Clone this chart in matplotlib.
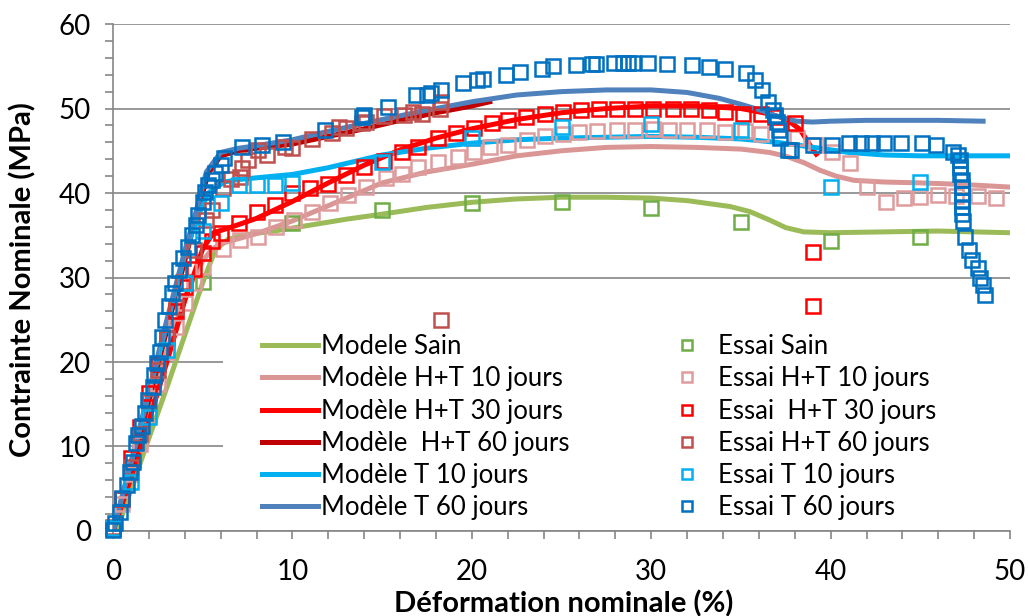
import matplotlib
matplotlib.use('Agg')
import matplotlib.pyplot as plt
from matplotlib.patches import Rectangle
from matplotlib.ticker import MultipleLocator

plt.rcParams['font.family'] = ['Lato', 'DejaVu Sans']

# ---- Model curves ----
sain_mod_x = [0, 0.2, 1, 2, 3, 4, 5, 5.7, 6.4, 7.5, 9, 10.7, 13, 15, 17.5, 20, 22.5, 25, 27.5, 30, 32, 34.4, 35.5, 36.6, 37.5, 38.5, 40, 43, 46, 50]
sain_mod_y = [0, 0, 4.9, 11, 17, 23.2, 29.4, 33.3, 34.5, 35.1, 35.5, 36.1, 36.9, 37.5, 38.3, 38.9, 39.3, 39.5, 39.5, 39.4, 39.1, 38.4, 37.8, 36.8, 35.9, 35.4, 35.3, 35.4, 35.5, 35.3]

ht10_mod_x = [0, 1, 2, 3, 4, 5, 5.5, 6, 7, 8, 10, 12, 15, 17.5, 20, 22.5, 25, 27.5, 30, 32.5, 35, 36.6, 37.6, 38.5, 39.4, 40.3, 41.3, 43, 45, 47.5, 50]
ht10_mod_y = [0, 7, 14.2, 21.3, 27.8, 32, 33.3, 34.0, 34.6, 35.2, 36.7, 38.5, 41.2, 42.5, 43.4, 44.4, 45.0, 45.4, 45.5, 45.4, 45.2, 44.8, 44.3, 43.6, 42.7, 42.0, 41.5, 41.3, 41.2, 41.0, 40.7]

ht30_mod_x = [0, 1, 2, 3, 4, 5, 5.6, 6.5, 8, 10, 12, 14, 16, 18, 20, 22.5, 25, 27.5, 30, 32.5, 35, 36.5, 37.5, 38.3, 38.9, 39.2]
ht30_mod_y = [0, 6.3, 13, 20, 27.3, 33.4, 35.3, 35.9, 37.0, 39.0, 41.2, 43.3, 45.1, 46.5, 47.6, 48.7, 49.5, 50.0, 50.3, 50.3, 50.0, 49.4, 48.8, 47.5, 45.5, 44.6]

ht60_mod_x = [0, 1, 2, 3, 4, 4.6, 5.3, 6, 7, 8, 10, 12, 14, 16, 18, 20, 21]
ht60_mod_y = [0, 7.5, 15.5, 23.8, 32, 37, 42.3, 44.4, 45, 45.3, 45.8, 46.7, 47.6, 48.6, 49.5, 50.3, 50.8]

t10_mod_x = [0, 1, 2, 3, 4, 4.6, 5.3, 6.2, 7, 8, 10, 12, 15, 17.5, 20, 22.5, 25, 27.5, 30, 32.5, 35, 37, 39.4, 41, 43, 45, 47.5, 50]
t10_mod_y = [0, 8, 16.3, 24.5, 32.7, 36.6, 40, 41.3, 41.6, 41.8, 42.2, 43, 44.5, 45.3, 45.9, 46.3, 46.5, 46.6, 46.7, 46.6, 46.4, 46.0, 45.3, 44.8, 44.5, 44.4, 44.4, 44.4]

t60_mod_x = [0, 1, 2, 3, 4, 4.6, 5.2, 6, 7, 8, 10, 12, 15, 17.5, 20, 22.5, 25, 27.5, 30, 32, 33.8, 35, 36.1, 37, 38.1, 39, 40, 42, 44, 46, 48.5]
t60_mod_y = [0, 8.2, 16.6, 25, 33.2, 37.6, 42.5, 44.8, 45.3, 45.6, 46.3, 47.3, 48.7, 49.8, 50.8, 51.6, 52, 52.2, 52.2, 51.9, 51.2, 50.5, 49.8, 49.1, 48.5, 48.4, 48.5, 48.6, 48.6, 48.6, 48.5]

# ---- Test data ----
sain_ess_x = [0, 5, 10, 15, 20, 25, 30, 35, 40, 45]
sain_ess_y = [0.3, 29.5, 36.4, 38.0, 38.8, 38.9, 38.2, 36.6, 34.3, 34.8]

ht10_ess_x = [0, 0.5, 1, 1.5, 2, 2.5, 3, 3.5, 4, 4.5, 5, 6.1, 7.1, 8.1, 9.1, 10.1, 11.1, 12.1, 13.1, 14.1,
              15.2, 16.1, 17, 18.1, 19.2, 20.1, 21, 22, 23.1, 24.1, 25.1, 26, 27, 28.1, 29.1, 30.1, 31, 32, 33.1, 34.1,
              35.2, 36.1, 38.1, 39.2, 40.1, 41.1, 42, 43.1, 44.1, 45, 46, 47, 48.2, 49.2]
ht10_ess_y = [0.3, 3.2, 6.8, 10.3, 13.8, 17.4, 21.2, 24.2, 27, 29.3, 31.2, 33.4, 34.4, 34.8, 36, 36.8, 37.8, 38.8, 39.8, 40.7,
              41.8, 42.3, 43.1, 43.7, 44.3, 44.9, 45.5, 45.7, 46.3, 46.7, 47, 47.2, 47.3, 47.5, 47.5, 47.6, 47.5, 47.5, 47.4, 47.2,
              47.3, 47.0, 46.5, 45.7, 44.9, 43.5, 40.7, 38.9, 39.4, 39.5, 39.8, 39.6, 39.6, 39.4]

ht30_ess_x = [0, 0.5, 1, 1.5, 2, 2.5, 3, 3.5, 4, 4.5, 5, 5.5, 6, 7, 8, 9, 10, 11, 12, 13,
              14, 15.1, 16.1, 17, 18.1, 19.1, 20.1, 21.1, 22, 23, 24.1, 25.1, 26.1, 27.1, 28.1, 29.1, 30.1, 31.2, 32.2, 33.2,
              34.1, 35.1, 36.1, 36.9, 38, 39, 39]
ht30_ess_y = [0.3, 3.8, 8.6, 12.3, 16.3, 19.8, 22.8, 26, 28.9, 31, 32.9, 34.3, 35.3, 36.4, 37.8, 38.6, 40, 40.6, 41.1, 42.1,
              43.1, 43.8, 44.9, 45.4, 46.5, 47.1, 47.7, 48.3, 48.6, 49, 49.4, 49.6, 49.8, 49.9, 50, 50, 50, 50, 49.9, 49.8,
              49.6, 49.4, 49.3, 49.0, 48.3, 33.0, 26.6]

ht60_ess_x = [0, 0.5, 1, 1.5, 2, 2.5, 3, 3.5, 3.9, 4.5, 5.2, 5.5, 6.1, 6.6, 7.1, 7.2, 7.5, 8.1, 8.6, 9.6,
              10, 11.1, 12.2, 12.6, 13, 13.9, 14.1, 15.1, 16.2, 16.7, 17.2, 18.2, 18.3, 18.3]
ht60_ess_y = [0.5, 3.8, 7.6, 11.5, 15.3, 19, 22.8, 26.5, 29.5, 33.3, 36.8, 38, 40.6, 41.6, 41.9, 43, 43.9, 45.1, 44.5, 45.5,
              45.3, 46.4, 47.1, 47.8, 47.7, 48.3, 48.4, 49.1, 49.2, 49.6, 49.4, 50, 50.8, 25.0]

t10_ess_x = [0, 1, 2, 3, 4, 5, 6, 7, 8, 9, 10, 15, 20, 25, 30, 35, 40, 45]
t10_ess_y = [0.3, 5.8, 13.5, 21.4, 29.3, 35.5, 38.8, 41, 41, 41, 41.2, 43.7, 46.5, 47.8, 48.2, 47.5, 40.7, 41.3]

t60_ess_x = [0, 0.1, 0.4, 0.5, 0.8, 0.95, 1.1, 1.3, 1.4, 1.6, 1.8, 1.95, 2.2, 2.3, 2.45, 2.6, 2.7, 2.9, 3.1, 3.3,
             3.45, 3.7, 3.9, 4.2, 4.4, 4.6, 4.75, 5.0, 5.1, 5.3, 5.5, 5.7, 6.0, 6.2, 7.2, 8.3, 9.5, 11.8, 13.9, 14.0,
             15.3, 16.9, 17.5, 17.7, 18.3, 19.5, 20.3, 20.6, 21.9, 22.7, 23.9, 24.5, 25.8, 26.7, 26.9, 27.9, 28.4, 28.7, 29.0, 29.8,
             30.9, 32.3, 33.2, 34.1, 35.3, 35.8, 36.2, 36.5, 36.8, 36.9, 37.0, 37.1, 37.2, 37.6, 37.8, 39.0, 40.1, 41.0, 41.7, 42.3,
             43.0, 43.9, 45.1, 45.9, 46.8, 47.1, 47.2, 47.2, 47.2, 47.3, 47.3, 47.3, 47.3, 47.3, 47.3, 47.4, 47.5, 47.7, 47.9, 48.2,
             48.3, 48.5, 48.6]
t60_ess_y = [0.1, 1.0, 2.3, 3.9, 5.5, 7.0, 8.2, 10.4, 11.4, 12.4, 14.0, 15.5, 17.1, 18.5, 19.9, 21.2, 23.0, 25.0, 26.6, 28.2,
             29.3, 30.9, 32.3, 33.6, 35.0, 36.2, 37.4, 38.9, 40.1, 40.9, 41.5, 42.4, 43.3, 44.1, 45.4, 45.7, 46.0, 47.5, 49.0, 49.2,
             50.2, 51.6, 51.6, 51.8, 52.2, 53.0, 53.4, 53.5, 54.0, 54.3, 54.7, 55.0, 55.1, 55.3, 55.3, 55.4, 55.4, 55.4, 55.4, 55.4,
             55.3, 55.1, 54.9, 54.7, 54.2, 53.4, 52.2, 50.8, 49.8, 49.2, 48.4, 47.5, 46.5, 45.1, 45.1, 45.7, 45.7, 45.9, 45.9, 45.9,
             45.9, 45.9, 45.9, 45.7, 44.9, 44.5, 43.9, 43.1, 42.3, 41.5, 40.7, 39.9, 39.1, 38.3, 37.5, 36.7, 34.8, 33.3, 32.1, 31.1,
             30.0, 29.1, 27.9]

fig, ax = plt.subplots(figsize=(10.28, 6.16), dpi=100)
fig.subplots_adjust(left=0.110, right=0.9825, bottom=0.138, top=0.961)

lw = 3.6
ax.plot(sain_mod_x, sain_mod_y, color='#9BBB59', lw=lw, label='Modele Sain', zorder=3)
ax.plot(ht10_mod_x, ht10_mod_y, color='#D99694', lw=lw, label='Modèle H+T 10 jours', zorder=3)
ax.plot(ht30_mod_x, ht30_mod_y, color='#FF0000', lw=lw, label='Modèle H+T 30 jours', zorder=3)
ax.plot(ht60_mod_x, ht60_mod_y, color='#C00000', lw=lw, label='Modèle  H+T 60 jours', zorder=3)
ax.plot(t10_mod_x, t10_mod_y, color='#00B0F0', lw=lw, label='Modèle T 10 jours', zorder=3)
ax.plot(t60_mod_x, t60_mod_y, color='#4F81BD', lw=lw, label='Modèle T 60 jours', zorder=3)

ms = 9.5
mew = 1.8
ess = [
    (sain_ess_x, sain_ess_y, '#70AD47', 'Essai Sain'),
    (ht10_ess_x, ht10_ess_y, '#DE9C9C', 'Essai H+T 10 jours'),
    (ht30_ess_x, ht30_ess_y, '#FF0000', 'Essai  H+T 30 jours'),
    (ht60_ess_x, ht60_ess_y, '#C0504D', 'Essai H+T 60 jours'),
    (t10_ess_x, t10_ess_y, '#00B0F0', 'Essai T 10 jours'),
    (t60_ess_x, t60_ess_y, '#0070C0', 'Essai T 60 jours'),
]
for x, y, c, lab in ess:
    ax.plot(x, y, linestyle='none', marker='s', ms=ms, mfc='none', mec=c, mew=mew,
            label=lab, zorder=4, clip_on=False)

ax.set_xlim(0, 50)
ax.set_ylim(0, 60)
ax.xaxis.set_major_locator(MultipleLocator(10))
ax.xaxis.set_minor_locator(MultipleLocator(2))
ax.yaxis.set_major_locator(MultipleLocator(10))
ax.yaxis.set_minor_locator(MultipleLocator(2))
ax.tick_params(which='both', direction='out', length=6, width=1.2, color='#868686')
ax.tick_params(axis='both', labelsize=20)
ax.tick_params(axis='x', pad=14)
ax.tick_params(axis='y', pad=10)

for s in ['top', 'right']:
    ax.spines[s].set_visible(False)
for s in ['left', 'bottom']:
    ax.spines[s].set_color('#868686')
    ax.spines[s].set_linewidth(1.2)
ax.grid(axis='y', which='major', color='#868686', lw=1.2)
ax.set_axisbelow(True)

# white legend area hiding the gridlines behind it
ax.add_patch(Rectangle((0.1226, 0.006), 0.8774, 0.36, transform=ax.transAxes,
                       facecolor='white', edgecolor='none', zorder=1))

ax.set_xlabel('Déformation nominale (%)', fontsize=21, fontweight='bold', va='center')
ax.set_ylabel('Contrainte Nominale (MPa)', fontsize=21, fontweight='bold', va='center')
ax.xaxis.set_label_coords(0.502, -0.144)
ax.yaxis.set_label_coords(-0.101, 0.495)

leg = ax.legend(ncol=2, loc='lower left', bbox_to_anchor=(0.157, 0.006), fontsize=18.5,
                frameon=False,
                handlelength=2.18, handletextpad=0.15, labelspacing=0.28, columnspacing=3.45,
                markerscale=0.75, borderpad=0.3, borderaxespad=0)
leg.set_zorder(5)

fig.savefig('out.png', dpi=100)
